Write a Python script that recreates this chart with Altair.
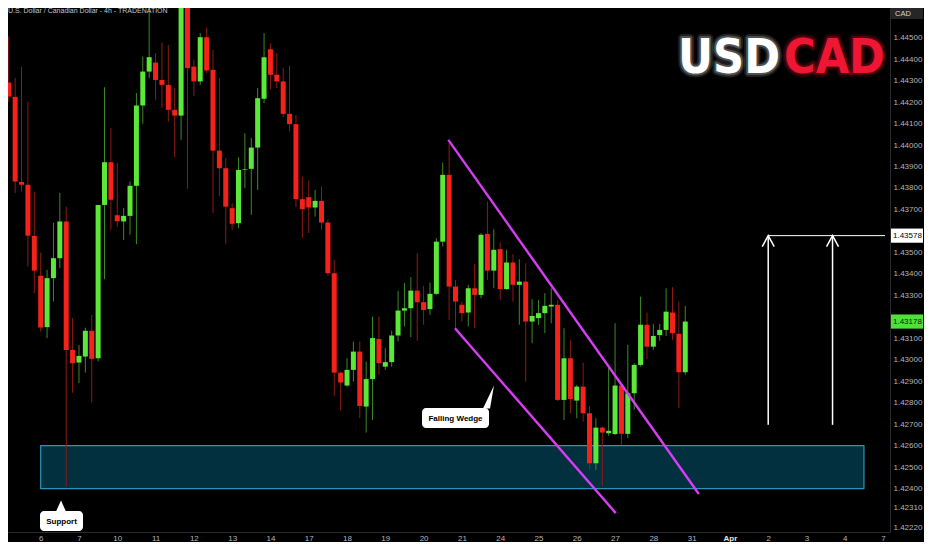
import altair as alt
import pandas as pd

# USD/CAD 4h bars, six per trading day; the first bar is Mar 5 04:00
opens = [1.44291, 1.44224, 1.43828, 1.43815, 1.43577, 1.43391, 1.43152, 1.43380, 1.43473, 1.43644,
         1.43046, 1.42987, 1.43015, 1.43135, 1.43007, 1.43721, 1.43920, 1.43673, 1.43644, 1.43670,
         1.43810, 1.44184, 1.44342, 1.44384, 1.44303, 1.44280, 1.44164, 1.44137, 1.44720, 1.44365,
         1.44296, 1.44502, 1.44350, 1.43974, 1.43892, 1.43706, 1.43636, 1.43884, 1.43889, 1.43988,
         1.44215, 1.44446, 1.44327, 1.44296, 1.44145, 1.44097, 1.43748, 1.43757, 1.43709, 1.43740,
         1.43639, 1.43403, 1.42940, 1.42880, 1.42953, 1.43038, 1.42782, 1.42910, 1.43097, 1.42968,
         1.42989, 1.43113, 1.43229, 1.43240, 1.43322, 1.43268, 1.43236, 1.43307, 1.43550, 1.43861,
         1.43341, 1.43256, 1.43220, 1.43333, 1.43302, 1.43586, 1.43415, 1.43515, 1.43329, 1.43453,
         1.43349, 1.43364, 1.43178, 1.43194, 1.43217, 1.43248, 1.43256, 1.42813, 1.43007, 1.42810,
         1.42875, 1.42751, 1.42518, 1.42684, 1.42658, 1.42654, 1.42880, 1.42655, 1.42844, 1.42976,
         1.43163, 1.43061, 1.43115, 1.43139, 1.43220, 1.43121, 1.42942]
highs = [1.44505, 1.44313, 1.44365, 1.44202, 1.43783, 1.43498, 1.43419, 1.43638, 1.43777, 1.43713,
         1.43195, 1.43069, 1.43149, 1.43209, 1.43721, 1.44269, 1.44079, 1.43917, 1.43707, 1.43830,
         1.44242, 1.44412, 1.44700, 1.44428, 1.44477, 1.44466, 1.44265, 1.44760, 1.44760, 1.44397,
         1.44521, 1.44546, 1.44443, 1.44311, 1.43939, 1.43729, 1.43943, 1.44055, 1.44032, 1.44265,
         1.44521, 1.44474, 1.44428, 1.44358, 1.44369, 1.44140, 1.43853, 1.43835, 1.43791, 1.43807,
         1.43652, 1.43465, 1.42945, 1.43007, 1.43085, 1.43085, 1.42992, 1.43201, 1.43201, 1.43054,
         1.43136, 1.43321, 1.43357, 1.43385, 1.43496, 1.43344, 1.43360, 1.43566, 1.43918, 1.44009,
         1.43372, 1.43271, 1.43349, 1.43447, 1.43590, 1.43737, 1.43608, 1.43546, 1.43512, 1.43493,
         1.43468, 1.43450, 1.43282, 1.43279, 1.43310, 1.43333, 1.43276, 1.43147, 1.43093, 1.42883,
         1.42987, 1.42785, 1.42728, 1.42690, 1.42976, 1.43170, 1.42891, 1.43069, 1.42984, 1.43294,
         1.43220, 1.43167, 1.43167, 1.43333, 1.43338, 1.43271, 1.43251]
lows = [1.44202, 1.43777, 1.43783, 1.43434, 1.43310, 1.43131, 1.43101, 1.43271, 1.43428, 1.42409,
        1.42846, 1.42891, 1.42940, 1.42801, 1.42992, 1.43375, 1.43605, 1.43620, 1.43558, 1.43582,
        1.43538, 1.44099, 1.44311, 1.44210, 1.44172, 1.44109, 1.43943, 1.44024, 1.43796, 1.44229,
        1.44280, 1.44335, 1.43683, 1.43763, 1.43540, 1.43605, 1.43613, 1.43799, 1.43675, 1.43791,
        1.44195, 1.44260, 1.44265, 1.44130, 1.44063, 1.43711, 1.43566, 1.43590, 1.43667, 1.43605,
        1.43391, 1.42832, 1.42763, 1.42875, 1.42898, 1.42728, 1.42661, 1.42720, 1.42930, 1.42953,
        1.42968, 1.43085, 1.43155, 1.43105, 1.43089, 1.43163, 1.43209, 1.43302, 1.43527, 1.43186,
        1.43147, 1.43178, 1.43155, 1.43147, 1.43287, 1.43372, 1.43333, 1.43279, 1.43326, 1.43271,
        1.43163, 1.42898, 1.43077, 1.43163, 1.43124, 1.43170, 1.42808, 1.42720, 1.42751, 1.42728,
        1.42712, 1.42487, 1.42487, 1.42413, 1.42646, 1.42650, 1.42604, 1.42635, 1.42767, 1.42968,
        1.43003, 1.43046, 1.43089, 1.43111, 1.43093, 1.42775, 1.42930]
closes = [1.44226, 1.43830, 1.43815, 1.43578, 1.43415, 1.43150, 1.43380, 1.43473, 1.43644, 1.43046,
          1.42984, 1.43018, 1.43135, 1.43004, 1.43721, 1.43920, 1.43745, 1.43645, 1.43670, 1.43810,
          1.44184, 1.44342, 1.44409, 1.44303, 1.44280, 1.44164, 1.44137, 1.44720, 1.44358, 1.44296,
          1.44502, 1.44347, 1.43974, 1.43892, 1.43713, 1.43633, 1.43884, 1.43887, 1.43988, 1.44218,
          1.44409, 1.44327, 1.44296, 1.44145, 1.44097, 1.43748, 1.43701, 1.43709, 1.43740, 1.43639,
          1.43403, 1.42940, 1.42894, 1.42953, 1.43038, 1.42785, 1.42910, 1.43101, 1.42984, 1.42989,
          1.43113, 1.43229, 1.43240, 1.43322, 1.43268, 1.43232, 1.43307, 1.43550, 1.43861, 1.43341,
          1.43271, 1.43217, 1.43333, 1.43302, 1.43582, 1.43415, 1.43512, 1.43329, 1.43453, 1.43349,
          1.43364, 1.43178, 1.43204, 1.43217, 1.43251, 1.43256, 1.42813, 1.43007, 1.42817, 1.42875,
          1.42751, 1.42518, 1.42684, 1.42661, 1.42669, 1.42880, 1.42655, 1.42844, 1.42976, 1.43163,
          1.43061, 1.43111, 1.43139, 1.43224, 1.43124, 1.42942, 1.43178]

day_labels = ['6', '7', '10', '11', '12', '13', '14', '17', '18', '19', '20', '21',
              '24', '25', '26', '27', '28', '31', 'Apr', '2', '3', '4', '7']
# 1.43200 and 1.43600 sit under the price tags, so they are left out
price_ticks = [1.4222, 1.4231, 1.424, 1.425, 1.426, 1.427, 1.428, 1.429, 1.430, 1.431,
               1.433, 1.434, 1.435, 1.437, 1.438, 1.439, 1.440, 1.441, 1.442, 1.443,
               1.444, 1.445]

# support zone, wedge lines and target (day index, price)
zone_days = [0.0, 21.5]
zone_prices = [1.4240, 1.4260]
wedge_upper = [(10.646, 1.44024), (17.188, 1.42375)]
wedge_lower = [(10.819, 1.43147), (15.019, 1.42286)]
target_price = 1.43578
arrow_days = [19.0, 20.68]
arrow_base = 1.42697
last_price = 1.43178

GREEN, RED = '#5be838', '#f5221c'
GREEN_WICK, RED_WICK = '#3c8a26', '#8e1a15'
MAGENTA = '#d93cf5'
FONT = 'Liberation Sans'
X_MIN, X_MAX = -0.723, 22.05
W, H = 882, 524

bars = pd.DataFrame({'o': opens, 'h': highs, 'l': lows, 'c': closes})
bars['t'] = [(i - 5) / 6 for i in range(len(bars))]

xs = alt.Scale(domain=[X_MIN, X_MAX], nice=False, zero=False)
ys = alt.Scale(domain=[1.42198, 1.44638], nice=False, zero=False)

label_expr = '[' + ','.join(f"'{d}'" for d in day_labels) + '][datum.value]'
x_axis = alt.Axis(values=list(range(len(day_labels))), labelExpr=label_expr, grid=False,
                  ticks=False, domainColor='#2a2a2a', labelFont=FONT, labelFontSize=8,
                  labelColor={'condition': {'test': 'datum.value == 18', 'value': '#e6e6e6'},
                              'value': '#b2b5be'},
                  labelFontWeight={'condition': {'test': 'datum.value == 18', 'value': 'bold'},
                                   'value': 'normal'},
                  labelPadding=2, labelFlush=False, labelOverlap=False, title=None)
y_axis = alt.Axis(orient='right', values=price_ticks, format='.5f', grid=False, ticks=False,
                  domainColor='#2a2a2a', labelFont=FONT, labelFontSize=8,
                  labelColor='#b2b5be', labelPadding=3, labelOverlap=False, title=None)


def X(field):
    return alt.X(field, type='quantitative', scale=xs, axis=x_axis)


def Y(field):
    return alt.Y(field, type='quantitative', scale=ys, axis=y_axis)


up = 'datum.c >= datum.o'

zone = alt.Chart(pd.DataFrame({'x': [zone_days[0]], 'x2': [zone_days[1]],
                               'y': [zone_prices[0]], 'y2': [zone_prices[1]]})).mark_rect(
    fill='#03303e', stroke='#2a94ba', strokeWidth=1.2, clip=True
).encode(x=X('x'), x2='x2', y=Y('y'), y2='y2')

wicks = alt.Chart(bars).mark_rule(strokeWidth=1, clip=True).encode(
    x=X('t'), y=Y('l'), y2='h',
    color=alt.condition(up, alt.value(GREEN_WICK), alt.value(RED_WICK)))

bodies = alt.Chart(bars).mark_bar(size=5, clip=True).encode(
    x=X('t'), y=Y('o'), y2='c',
    color=alt.condition(up, alt.value(GREEN), alt.value(RED)))

wedge_df = pd.DataFrame([{'seg': 'upper', 'x': x, 'y': y} for x, y in wedge_upper] +
                        [{'seg': 'lower', 'x': x, 'y': y} for x, y in wedge_lower])
wedge = alt.Chart(wedge_df).mark_line(color=MAGENTA, strokeWidth=2.4, clip=True).encode(
    x=X('x'), y=Y('y'), detail='seg:N')

target = alt.Chart(pd.DataFrame({'x': [arrow_days[0]], 'x2': [X_MAX], 'y': [target_price]})).mark_rule(
    color='white', strokeWidth=1, clip=True).encode(x=X('x'), x2='x2', y=Y('y'))

arrow_df = pd.DataFrame({'x': arrow_days, 'y': [arrow_base] * 2, 'y2': [target_price] * 2})
shafts = alt.Chart(arrow_df).mark_rule(color='white', strokeWidth=1.5).encode(
    x=X('x'), y=Y('y'), y2='y2')
heads = alt.Chart(arrow_df).mark_point(shape='M-6,11L0,0L6,11', size=4, filled=False,
                                       color='white', strokeWidth=1.5, opacity=1).encode(
    x=X('x'), y=Y('y2'))


def box(x, x2, y, y2, fill, radius=0):
    return alt.Chart(pd.DataFrame({'k': [0]})).mark_rect(fill=fill, cornerRadius=radius).encode(
        x=alt.value(x), x2=alt.value(x2), y=alt.value(y), y2=alt.value(y2))


def label(text, x, y, size, color, weight='normal', align='center', font=FONT, baseline='middle'):
    return alt.Chart(pd.DataFrame({'txt': [text]})).mark_text(
        fontSize=size, color=color, fontWeight=weight, align=align, baseline=baseline, font=font
    ).encode(x=alt.value(x), y=alt.value(y), text='txt:N')


def pointer(path, x, y):
    return alt.Chart(pd.DataFrame({'k': [0]})).mark_point(
        shape=path, size=4, filled=True, color='white', opacity=1).encode(
        x=alt.value(x), y=alt.value(y))


wedge_note = (box(414, 481, 400, 420, 'white', 4) + pointer('M-4,0L7,-23L3,0Z', 479, 400.5)
              + label('Falling Wedge', 447.5, 410.5, 8, 'black', 'bold'))
support_note = (box(32, 75, 503, 523, 'white', 4) + pointer('M-5,0L0,-11L5,0Z', 53, 503.5)
                + label('Support', 53.5, 513.5, 8, 'black', 'bold'))

title = label('U.S. Dollar / Canadian Dollar - 4h - TRADENATION', 0, 3, 7, '#c4c4c4', align='left')
cad_tag = box(883, 915, 0, 11, '#262626') + label('CAD', 887, 5.5, 7.5, '#d6d6d6', align='left')

LOGO_FONT = 'DejaVu Sans Condensed'
logo_layers = []
for text, color, x, align in [('USD', '#ffffff', 772, 'right'), ('CAD', '#ee1632', 776, 'left')]:
    for sw, so in [(8, 0.12), (4, 0.22)]:
        logo_layers.append(alt.Chart(pd.DataFrame({'txt': [text]})).mark_text(
            font=LOGO_FONT, fontSize=48, fontWeight='bold', align=align, baseline='alphabetic',
            fill=color, stroke=color, strokeWidth=sw, strokeOpacity=so, fillOpacity=0,
            strokeJoin='round').encode(x=alt.value(x), y=alt.value(65), text='txt:N'))
    logo_layers.append(label(text, x, 65, 48, color, 'bold', align, LOGO_FONT, 'alphabetic'))
logo = alt.layer(*logo_layers)

tags_df = pd.DataFrame({'p': [target_price, last_price],
                        'txt': [f'{target_price:.5f}', f'{last_price:.5f}'],
                        'bg': ['#ffffff', '#4fe03a'], 'fg': ['#000000', '#0b2606']})
tags_df['top'] = tags_df['p'] + 0.00033
tags_df['bot'] = tags_df['p'] - 0.00033
tag_boxes = alt.Chart(tags_df).mark_rect().encode(
    x=alt.value(W + 1), x2=alt.value(W + 33), y=Y('top'), y2='bot',
    color=alt.Color('bg:N', scale=None))
tag_text = alt.Chart(tags_df).mark_text(font=FONT, fontSize=8, align='left').encode(
    x=alt.value(W + 3), y=Y('p'), text='txt:N', color=alt.Color('fg:N', scale=None))

chart = alt.layer(
    zone, wicks, bodies, wedge, target, shafts, heads, wedge_note, support_note,
    title, cad_tag, logo, tag_boxes, tag_text
).properties(
    width=W, height=H, background='#000000',
    autosize=alt.AutoSizeParams(type='none'),
    padding={'left': 0, 'top': 0, 'right': 34, 'bottom': 10}
).configure_view(stroke=None)

chart.save("out.html", embed_options={"renderer": "svg", "actions": False})
